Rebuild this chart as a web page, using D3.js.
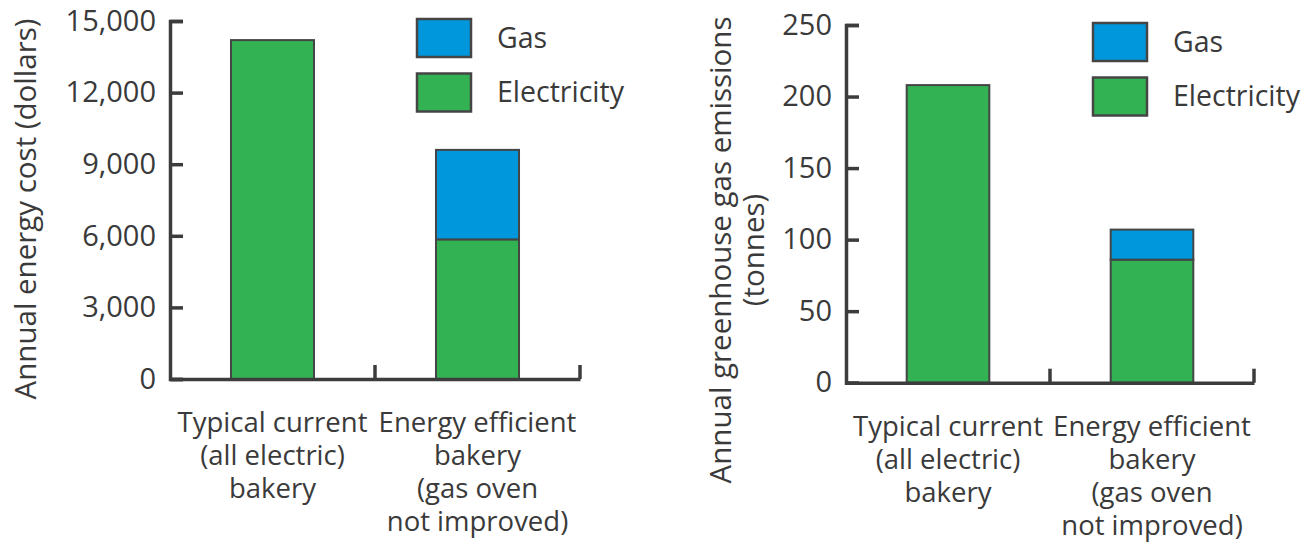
<!DOCTYPE html>
<head>
  <meta charset="utf-8">
  <script src="https://d3js.org/d3.v7.min.js"></script>
  <style>
    body { margin:0; background:#fff; }
    text { font-family: "Open Sans", "Noto Sans", sans-serif; fill:#3a3a3a; }
  </style>
</head>
<body>
<svg width="1311" height="542"></svg>
<script>

// categories (one entry per line of the label)
const categories = [
  ["Typical current", "(all electric)", "bakery"],
  ["Energy efficient", "bakery", "(gas oven", "not improved)"]
]
const seriesNames = ["Gas", "Electricity"]

// left chart: annual energy cost (dollars)
const costElectricity = [14200, 5850]
const costGas         = [0, 3750]
const costTicks       = [0, 3000, 6000, 9000, 12000, 15000]

// right chart: annual greenhouse gas emissions (tonnes)
const emisElectricity = [208, 86]
const emisGas         = [0, 21]
const emisTicks       = [0, 50, 100, 150, 200, 250]

const colors = { Gas: "#0097dc", Electricity: "#33b253" }
const ink = "#3c3c3c"

const svg = d3.select("svg")

function drawChart(opt) {
  const g = svg.append("g")

  const y = d3.scaleLinear().domain([0, d3.max(opt.ticks)]).range([opt.bottom, opt.top])
  const x = d3.scaleBand().domain(d3.range(categories.length)).range([opt.left, opt.right])
    .paddingInner(0).paddingOuter(0)
  const barW = x.bandwidth() * 0.405

  // stacked bars: electricity below, gas on top
  const rows = opt.elec.map((e, i) => ({ i: i, Electricity: e, Gas: opt.gas[i] }))
  const stack = d3.stack().keys(["Electricity", "Gas"])(rows)

  g.selectAll(".layer")
    .data(stack)
    .enter().append("g")
      .attr("fill", d => colors[d.key])
    .selectAll("rect")
    .data(d => d.filter(s => s[1] - s[0] > 0))
    .enter().append("rect")
      .attr("x", d => x(d.data.i) + (x.bandwidth() - barW) / 2)
      .attr("width", barW)
      .attr("y", d => y(d[1]))
      .attr("height", d => y(d[0]) - y(d[1]))
      .attr("stroke", "#454545")
      .attr("stroke-width", 2)

  // y axis, ticks pointing inward
  const yAxis = g.append("g")
    .attr("transform", `translate(${opt.left},0)`)
    .call(d3.axisLeft(y).tickValues(opt.ticks).tickFormat(d3.format(",")).tickSizeInner(-13).tickSizeOuter(-13).tickPadding(14))
  yAxis.select(".domain").attr("stroke", ink).attr("stroke-width", 3.5)
  yAxis.selectAll(".tick line").attr("stroke", ink).attr("stroke-width", 3.5)
  yAxis.selectAll(".tick text").attr("font-size", 29).attr("fill", "#3a3a3a")
    .attr("font-family", "'Open Sans', sans-serif")

  // x axis
  const xAxis = g.append("g")
    .attr("transform", `translate(0,${opt.bottom})`)
    .call(d3.axisBottom(x).tickSize(0).tickSizeOuter(0).tickFormat(""))
  xAxis.select(".domain").attr("stroke", ink).attr("stroke-width", 3.5)
  xAxis.selectAll(".tick text").remove()

  g.selectAll(".sep")
    .data(d3.range(categories.length))
    .enter().append("line")
      .attr("x1", i => x(i) + x.step())
      .attr("x2", i => x(i) + x.step())
      .attr("y1", opt.bottom)
      .attr("y2", opt.bottom - 14)
      .attr("stroke", ink)
      .attr("stroke-width", 3.5)

  const labels = g.selectAll(".cat")
    .data(categories)
    .enter().append("text")
      .attr("text-anchor", "middle")
      .attr("font-size", 27.5)
      .attr("transform", (d, i) => `translate(${x(i) + x.bandwidth() / 2},${opt.bottom + 53})`)
  labels.selectAll("tspan")
    .data(d => d)
    .enter().append("tspan")
      .attr("x", 0)
      .attr("y", (d, j) => j * 33)
      .text(d => d)

  // axis title
  const title = g.append("text")
    .attr("text-anchor", "middle")
    .attr("font-size", 29.5)
    .attr("transform", `translate(${opt.titleX},${opt.titleY}) rotate(-90)`)
  title.selectAll("tspan")
    .data(opt.title)
    .enter().append("tspan")
      .attr("x", 0)
      .attr("y", (d, j) => j * 33)
      .text(d => d)

  // legend
  const leg = g.selectAll(".leg")
    .data(seriesNames)
    .enter().append("g")
      .attr("transform", (d, i) => `translate(${opt.legX},${opt.legY + i * 54.5})`)
  leg.append("rect")
    .attr("width", 54).attr("height", 38)
    .attr("fill", d => colors[d])
    .attr("stroke", "#454545").attr("stroke-width", 2.5)
  leg.append("text")
    .attr("x", 80).attr("y", 19).attr("dy", "0.35em")
    .attr("font-size", 28.5)
    .text(d => d)
}

drawChart({
  left: 170, right: 580, top: 21, bottom: 379,
  elec: costElectricity, gas: costGas, ticks: costTicks,
  title: ["Annual energy cost (dollars)"], titleX: 36, titleY: 209,
  legX: 417, legY: 19
})

drawChart({
  left: 846, right: 1254, top: 25, bottom: 382.7,
  elec: emisElectricity, gas: emisGas, ticks: emisTicks,
  title: ["Annual greenhouse gas emissions", "(tonnes)"], titleX: 731, titleY: 250,
  legX: 1093, legY: 23
})

</script>
</body>
